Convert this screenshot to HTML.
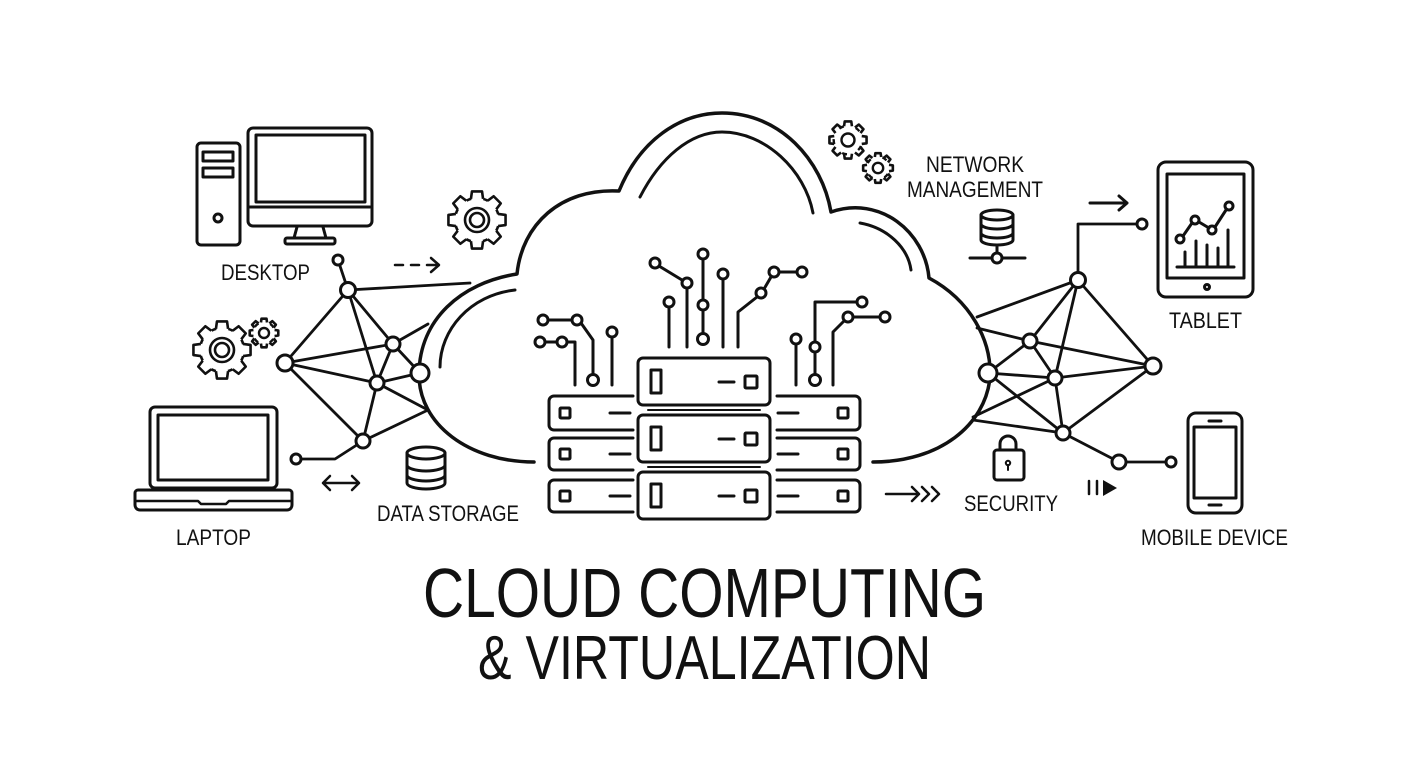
<!DOCTYPE html>
<html><head><meta charset="utf-8"><style>
html,body{margin:0;padding:0;background:#fff;}
svg{display:block;}
text{font-family:"Liberation Sans Narrow","Liberation Sans",sans-serif;fill:#111;}
</style></head><body>
<svg width="1408" height="768" viewBox="0 0 1408 768" xmlns="http://www.w3.org/2000/svg">
<defs>
<g id="tooth"><path d="M21.15 -6.06 L28.56 -5.04 L28.56 5.04 L21.15 6.06" fill="none" stroke="#111" stroke-width="2.6" stroke-linejoin="round" vector-effect="non-scaling-stroke"/></g>
<g id="gear">
<use href="#tooth"/><use href="#tooth" transform="rotate(45)"/><use href="#tooth" transform="rotate(90)"/><use href="#tooth" transform="rotate(135)"/>
<use href="#tooth" transform="rotate(180)"/><use href="#tooth" transform="rotate(225)"/><use href="#tooth" transform="rotate(270)"/><use href="#tooth" transform="rotate(315)"/>
<circle r="22" fill="none" stroke="#111" stroke-width="2.6" stroke-dasharray="0 6.15 5.0 6.15" vector-effect="non-scaling-stroke"/>
<circle r="12" fill="none" stroke="#111" stroke-width="2.6" vector-effect="non-scaling-stroke"/>
<circle r="7" fill="none" stroke="#111" stroke-width="2.6" vector-effect="non-scaling-stroke"/>
</g>
<g id="gear2">
<use href="#tooth"/><use href="#tooth" transform="rotate(45)"/><use href="#tooth" transform="rotate(90)"/><use href="#tooth" transform="rotate(135)"/>
<use href="#tooth" transform="rotate(180)"/><use href="#tooth" transform="rotate(225)"/><use href="#tooth" transform="rotate(270)"/><use href="#tooth" transform="rotate(315)"/>
<circle r="22" fill="none" stroke="#111" stroke-width="2.4" stroke-dasharray="0 6.15 5.0 6.15" vector-effect="non-scaling-stroke"/>
<circle r="10" fill="none" stroke="#111" stroke-width="2.4" vector-effect="non-scaling-stroke"/>
</g>
</defs>
<rect width="1408" height="768" fill="#fff"/>
<g fill="none" stroke="#111" stroke-width="3" stroke-linecap="round" stroke-linejoin="round">
<path d="M534 462 C470 462 418 425 419 373 C420 320 460 283 517 274 C522 225 560 188 619 191 C640 140 680 113 722 113 C780 113 822 160 831 212 C880 195 925 232 929 278 C970 300 992 340 990 378 C985 425 940 462 873 462" stroke-width="3.5"/>
<path d="M640 197 C660 158 690 132 722 132 C765 132 805 170 813 213"/>
<path d="M515 290 C470 295 440 330 440 367"/>
<path d="M860 223 C888 228 908 248 911 270"/>
<rect x="638" y="358" width="132" height="47" rx="5"/>
<rect x="638" y="415" width="132" height="47" rx="5"/>
<rect x="638" y="472" width="132" height="47" rx="5"/>
<line x1="648" y1="410" x2="760" y2="410" stroke-width="2"/>
<line x1="648" y1="467" x2="760" y2="467" stroke-width="2"/>
<rect x="651" y="370" width="10" height="23"/><rect x="651" y="427" width="10" height="23"/><rect x="651" y="484" width="10" height="23"/>
<line x1="719" y1="382" x2="734" y2="382"/><line x1="719" y1="439" x2="734" y2="439"/><line x1="719" y1="496" x2="734" y2="496"/>
<rect x="745" y="376" width="12" height="12" rx="1"/><rect x="745" y="433" width="12" height="12" rx="1"/><rect x="745" y="490" width="12" height="12" rx="1"/>
<path d="M633 396 H554 a5 5 0 0 0 -5 5 V425 a5 5 0 0 0 5 5 H633"/>
<path d="M633 438 H554 a5 5 0 0 0 -5 5 V465 a5 5 0 0 0 5 5 H633"/>
<path d="M633 480 H554 a5 5 0 0 0 -5 5 V507 a5 5 0 0 0 5 5 H633"/>
<rect x="560" y="408" width="10" height="10" rx="1"/><rect x="560" y="449" width="10" height="10" rx="1"/><rect x="560" y="491" width="10" height="10" rx="1"/>
<line x1="610" y1="413" x2="630" y2="413"/><line x1="610" y1="454" x2="630" y2="454"/><line x1="610" y1="496" x2="630" y2="496"/>
<path d="M777 396 H855 a5 5 0 0 1 5 5 V425 a5 5 0 0 1 -5 5 H777"/>
<path d="M777 438 H855 a5 5 0 0 1 5 5 V465 a5 5 0 0 1 -5 5 H777"/>
<path d="M777 480 H855 a5 5 0 0 1 5 5 V507 a5 5 0 0 1 -5 5 H777"/>
<rect x="838" y="408" width="10" height="10" rx="1"/><rect x="838" y="449" width="10" height="10" rx="1"/><rect x="838" y="491" width="10" height="10" rx="1"/>
<line x1="778" y1="413" x2="798" y2="413"/><line x1="778" y1="454" x2="798" y2="454"/><line x1="778" y1="496" x2="798" y2="496"/>
<path d="M548 320 H572 M581 323 L593 340 V375"/>
<path d="M545 342 H557 M567 342 H575 V385"/>
<path d="M612 337 V385"/>
<path d="M659 266 L682 280 M687 288 V347"/>
<path d="M669 307 V347"/>
<path d="M703 259 V300 M703 310 V334"/>
<path d="M723 279 V347"/>
<path d="M738 347 V312 L757 297 M764 289 L771 277 M779 272 H797"/>
<path d="M796 344 V385"/>
<path d="M857 302 H815 V342 M815 352 V375"/>
<path d="M880 317 H853 M844 321 L833 332 V385"/>
<g fill="#fff">
<circle cx="543" cy="320" r="5"/><circle cx="577" cy="320" r="5"/><circle cx="593" cy="380" r="5.5"/>
<circle cx="540" cy="342" r="5"/><circle cx="562" cy="342" r="5"/><circle cx="612" cy="332" r="5"/>
<circle cx="655" cy="263" r="5"/><circle cx="687" cy="283" r="5"/><circle cx="669" cy="302" r="5"/>
<circle cx="703" cy="254" r="5"/><circle cx="703" cy="305" r="5"/><circle cx="703" cy="339" r="5.5"/>
<circle cx="723" cy="274" r="5"/><circle cx="761" cy="293" r="5"/><circle cx="774" cy="272" r="5"/><circle cx="802" cy="272" r="5"/>
<circle cx="796" cy="339" r="5"/><circle cx="862" cy="302" r="5"/><circle cx="815" cy="347" r="5"/><circle cx="815" cy="380" r="5.5"/>
<circle cx="885" cy="317" r="5"/><circle cx="848" cy="317" r="5"/>
</g>
<g stroke-width="2.8">
<line x1="338" y1="260" x2="348" y2="290"/>
<line x1="348" y1="290" x2="470" y2="283"/>
<line x1="348" y1="290" x2="285" y2="363"/>
<line x1="348" y1="290" x2="393" y2="344"/>
<line x1="348" y1="290" x2="377" y2="383"/>
<line x1="285" y1="363" x2="393" y2="344"/>
<line x1="285" y1="363" x2="377" y2="383"/>
<line x1="285" y1="363" x2="363" y2="441"/>
<line x1="393" y1="344" x2="377" y2="383"/>
<line x1="393" y1="344" x2="420" y2="373"/>
<line x1="393" y1="344" x2="428" y2="324"/>
<line x1="377" y1="383" x2="420" y2="373"/>
<line x1="377" y1="383" x2="428" y2="410"/>
<line x1="363" y1="441" x2="377" y2="383"/>
<line x1="363" y1="441" x2="428" y2="410"/>
<path d="M296 459 H335 L363 441"/>
</g>
<g fill="#fff">
<circle cx="338" cy="260" r="5"/><circle cx="348" cy="290" r="7.5"/><circle cx="285" cy="363" r="8"/>
<circle cx="393" cy="344" r="7"/><circle cx="377" cy="383" r="7"/><circle cx="420" cy="373" r="9"/>
<circle cx="363" cy="441" r="7"/><circle cx="296" cy="459" r="5"/>
</g>
<g stroke-width="2.8">
<path d="M1078 280 V224 H1137"/>
<line x1="1078" y1="280" x2="977" y2="317"/>
<line x1="977" y1="328" x2="1030" y2="341"/>
<line x1="1030" y1="341" x2="1153" y2="366"/>
<line x1="1078" y1="280" x2="1030" y2="341"/>
<line x1="1078" y1="280" x2="1055" y2="378"/>
<line x1="1078" y1="280" x2="1153" y2="366"/>
<line x1="1030" y1="341" x2="988" y2="373"/>
<line x1="1030" y1="341" x2="1055" y2="378"/>
<line x1="988" y1="373" x2="1055" y2="378"/>
<line x1="1055" y1="378" x2="1153" y2="366"/>
<line x1="988" y1="373" x2="1063" y2="433"/>
<line x1="1055" y1="378" x2="973" y2="417"/>
<line x1="973" y1="420" x2="1063" y2="433"/>
<line x1="1055" y1="378" x2="1063" y2="433"/>
<line x1="1063" y1="433" x2="1153" y2="366"/>
<line x1="1063" y1="433" x2="1119" y2="462"/>
<line x1="1119" y1="462" x2="1171" y2="462"/>
</g>
<g fill="#fff">
<circle cx="1142" cy="224" r="5"/><circle cx="1078" cy="280" r="7.5"/><circle cx="1030" cy="341" r="7"/>
<circle cx="988" cy="373" r="9"/><circle cx="1055" cy="378" r="7"/><circle cx="1153" cy="366" r="8"/>
<circle cx="1063" cy="433" r="7"/><circle cx="1119" cy="462" r="7"/><circle cx="1171" cy="462" r="5"/>
</g>
<path d="M1090 203 H1127 M1119 196 L1127 203 L1119 210"/>
<path d="M395 265 H403 M411 265 H419 M427 265 H438 M431 258 L439 265 L431 272" stroke-width="2.5"/>
<path d="M323 483 H359 M330 476 L323 483 L330 490 M352 476 L359 483 L352 490" stroke-width="2.5"/>
<path d="M886 494 H919 M912 487 L919 494 L912 501 M922 487 L929 494 L922 501 M932 487 L939 494 L932 501" stroke-width="2.5"/>
<path d="M1089 481 V494 M1097 481 V494" stroke-width="2.5"/>
<rect x="197" y="143" width="43" height="102" rx="4"/>
<rect x="203" y="152" width="30" height="9"/><rect x="203" y="168" width="30" height="9"/>
<circle cx="218" cy="218" r="4"/>
<rect x="248" y="128" width="124" height="98" rx="5"/>
<rect x="256" y="135" width="109" height="67"/>
<line x1="250" y1="207" x2="370" y2="207"/>
<path d="M297 227 L294 238 M323 227 L326 238"/>
<rect x="285" y="238" width="50" height="6" rx="2"/>
<rect x="150" y="407" width="127" height="81" rx="5"/>
<rect x="158" y="415" width="110" height="65"/>
<path d="M138 490 H289 a3 3 0 0 1 3 3 V505 a5 5 0 0 1 -5 5 H140 a5 5 0 0 1 -5 -5 V493 a3 3 0 0 1 3 -3 Z"/>
<path d="M136 501 H198 L201 504 H226 L229 501 H291" stroke-width="2.5"/>
<ellipse cx="426" cy="453" rx="19" ry="6"/>
<path d="M407 453 V483 a19 6 0 0 0 38 0 V453 M407 465 a19 6 0 0 0 38 0 M407 475 a19 6 0 0 0 38 0"/>
<ellipse cx="997" cy="215" rx="16" ry="5"/>
<path d="M981 215 V240 a16 5 0 0 0 32 0 V215 M981 224 a16 5 0 0 0 32 0 M981 233 a16 5 0 0 0 32 0 M997 245 V253 M970 258 H992 M1002 258 H1025"/>
<circle cx="997" cy="258" r="5"/>
<path d="M1000 450 V444 a8 8 0 0 1 16 0 V450"/>
<rect x="994" y="450" width="30" height="30" rx="3"/>
<circle cx="1008" cy="463" r="2.2" stroke-width="2"/><line x1="1008" y1="465" x2="1008" y2="470" stroke-width="2"/>
<rect x="1158" y="162" width="95" height="135" rx="8"/>
<rect x="1167" y="174" width="77" height="104"/>
<circle cx="1207" cy="287" r="2.5"/>
<path d="M1183 236 L1192 223 M1199 222 L1209 228 M1215 227 L1226 210"/>
<circle cx="1180" cy="239" r="4"/><circle cx="1195" cy="220" r="4"/><circle cx="1212" cy="230" r="4"/><circle cx="1229" cy="206" r="4"/>
<path d="M1185 252 V267 M1196 241 V267 M1207 245 V267 M1218 248 V267 M1228 230 V267 M1177 267 H1234"/>
<rect x="1188" y="413" width="54" height="100" rx="8"/>
<rect x="1194" y="427" width="42" height="71"/>
<line x1="1209" y1="421" x2="1221" y2="421"/><line x1="1209" y1="505" x2="1221" y2="505"/>
</g>
<polygon points="1103,480 1103,496 1117,488" fill="#111"/>
<use href="#gear" transform="translate(477 220)"/>
<use href="#gear" transform="translate(222 350)"/>
<use href="#gear2" transform="translate(264 333) scale(0.5)"/>
<use href="#gear2" transform="translate(848 140) scale(0.65)"/>
<use href="#gear2" transform="translate(878 168) scale(0.52)"/>
<text x="221" y="280" font-size="22" textLength="89" lengthAdjust="spacingAndGlyphs">DESKTOP</text>
<text x="176" y="545" font-size="22" textLength="75" lengthAdjust="spacingAndGlyphs">LAPTOP</text>
<text x="377" y="521" font-size="22" textLength="142" lengthAdjust="spacingAndGlyphs">DATA STORAGE</text>
<text x="926" y="172" font-size="22" textLength="98" lengthAdjust="spacingAndGlyphs">NETWORK</text>
<text x="907" y="197" font-size="22" textLength="136" lengthAdjust="spacingAndGlyphs">MANAGEMENT</text>
<text x="1169" y="328" font-size="22" textLength="73" lengthAdjust="spacingAndGlyphs">TABLET</text>
<text x="964" y="511" font-size="22" textLength="94" lengthAdjust="spacingAndGlyphs">SECURITY</text>
<text x="1141" y="545" font-size="22" textLength="147" lengthAdjust="spacingAndGlyphs">MOBILE DEVICE</text>
<text x="423" y="617" font-size="70" textLength="563" lengthAdjust="spacingAndGlyphs">CLOUD COMPUTING</text>
<text x="478" y="679" font-size="62" textLength="453" lengthAdjust="spacingAndGlyphs">&amp; VIRTUALIZATION</text>
</svg>
</body></html>
